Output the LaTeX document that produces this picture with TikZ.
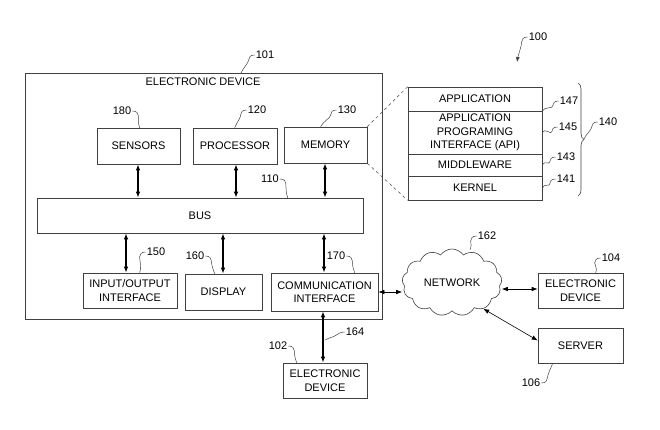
\documentclass[tikz,border=0pt]{standalone}
\usepackage{fontspec}
\setmainfont{Liberation Sans}
\usetikzlibrary{arrows.meta,shapes.symbols,decorations.pathreplacing,calc}
\newcommand\squigL[2]{\draw[lead] (#1) .. controls +(-4,0) and +(0,-3) .. ($(#1)+(-6,5)$) .. controls +(0,3) and +(2,-5) .. (#2);}
\newcommand\squigR[2]{\draw[lead] (#1) .. controls +(4,0) and +(0,-3) .. ($(#1)+(6,5)$) .. controls +(0,3) and +(-2,-5) .. (#2);}
\newcommand\squigU[2]{\draw[lead] (#1) .. controls +(4,0) and +(0,3) .. ($(#1)+(6,-5)$) .. controls +(0,-3) and +(-2,5) .. (#2);}
\begin{document}
\begin{tikzpicture}[x=1pt,y=-1pt,
  box/.style={draw=black!75, line width=0.6pt, align=center, font=\fontsize{11}{13.5}\selectfont, inner sep=0pt},
  lbl/.style={font=\fontsize{11}{13}\selectfont, inner sep=0pt},
  lead/.style={draw=black!75, line width=0.5pt},
  tip/.style={Latex[length=6pt,width=4.5pt]},
  biarrow/.style={{Latex[length=6pt,width=4.5pt]}-{Latex[length=6pt,width=4.5pt]}, line width=1.2pt},
  thinarrow/.style={{Latex[length=6pt,width=4.5pt]}-{Latex[length=6pt,width=4.5pt]}, line width=0.6pt}
]
\useasboundingbox (0,0) rectangle (660,429);

% outer device
\node[box, minimum width=357pt, minimum height=246pt, anchor=north west] (ed) at (25,73) {};
\node[lbl] (edt) at (203,82) {ELECTRONIC DEVICE};

% top row
\node[box, minimum width=83pt, minimum height=36pt] (sensors) at (138.5,146) {SENSORS};
\node[box, minimum width=84pt, minimum height=36pt] (proc) at (235,146) {PROCESSOR};
\node[box, minimum width=83pt, minimum height=36pt] (mem) at (325.5,145) {MEMORY};

% bus
\node[box, minimum width=326pt, minimum height=35pt] (bus) at (200,215.5) {BUS};

% bottom row
\node[box, minimum width=94pt, minimum height=35pt] (io) at (130,290.5) {INPUT/OUTPUT\\INTERFACE};
\node[box, minimum width=77pt, minimum height=36pt] (disp) at (223.5,292) {DISPLAY};
\node[box, minimum width=107pt, minimum height=38pt] (comm) at (324.5,292) {COMMUNICATION\\INTERFACE};

% external
\node[box, minimum width=84pt, minimum height=35pt] (el102) at (325,380.5) {ELECTRONIC\\DEVICE};
\node[box, minimum width=85pt, minimum height=35pt] (dev104) at (580.5,290.5) {ELECTRONIC\\DEVICE};
\node[box, minimum width=85pt, minimum height=35pt] (server) at (580.5,345.5) {SERVER};
\node[cloud, draw=black!75, line width=0.6pt, cloud puffs=13, cloud puff arc=110, aspect=1.5,
      minimum width=100pt, minimum height=67pt, inner sep=0pt, font=\fontsize{11}{13}\selectfont] (net) at (452,282.5) {NETWORK};

% stack
\node[box, minimum width=134pt, minimum height=24pt] (app) at (475,99) {APPLICATION};
\node[box, minimum width=134pt, minimum height=43pt] (api) at (475,132.5) {APPLICATION\\PROGRAMING\\INTERFACE (API)};
\node[box, minimum width=134pt, minimum height=22pt] (mid) at (475,165) {MIDDLEWARE};
\node[box, minimum width=134pt, minimum height=24pt] (kernel) at (475,188) {KERNEL};

% dashed zoom lines
\draw[lead, dashed] (mem.north east) -- (app.north west);
\draw[lead, dashed] (mem.south east) -- (kernel.south west);

% brace
\draw[lead, line width=0.6pt, decorate, decoration={brace, amplitude=6pt}] (578,83) -- (578,196);
\coordinate (btip) at (584,139);

% bus arrows
\draw[biarrow] ([xshift=-0.5pt]sensors.south) -- ([xshift=-0.5pt]sensors.south |- bus.north);
\draw[biarrow] ([xshift=1pt]proc.south) -- ([xshift=1pt]proc.south |- bus.north);
\draw[biarrow] ([xshift=-0.5pt]mem.south) -- ([xshift=-0.5pt]mem.south |- bus.north);
\draw[biarrow] ([xshift=-4pt]io.north |- bus.south) -- ([xshift=-4pt]io.north);
\draw[biarrow] ([xshift=-0.5pt]disp.north |- bus.south) -- ([xshift=-0.5pt]disp.north);
\draw[biarrow] ([xshift=-0.5pt]comm.north |- bus.south) -- ([xshift=-0.5pt]comm.north);
\draw[biarrow] ([xshift=-1.5pt]comm.south) -- ([xshift=-1.5pt]comm.south |- el102.north);

% network arrows
\draw[thinarrow] (comm.east) -- (comm.east -| net.west);
\draw[thinarrow] ([yshift=1.5pt]dev104.west -| net.east) -- ([yshift=1.5pt]dev104.west);
\draw[thinarrow] (net.-40) -- ([yshift=5pt]server.west);

% reference labels
\node[lbl] (l101) at (265,55) {101};
\node[lbl] (l100) at (538,37) {100};
\node[lbl] (l180) at (122,111) {180};
\node[lbl] (l120) at (257,110) {120};
\node[lbl] (l130) at (347,110) {130};
\node[lbl] (l110) at (270,179) {110};
\node[lbl] (l150) at (156,252) {150};
\node[lbl] (l160) at (195,256) {160};
\node[lbl] (l170) at (336,256) {170};
\node[lbl] (l164) at (355,332) {164};
\node[lbl] (l102) at (278,346) {102};
\node[lbl] (l162) at (487,236) {162};
\node[lbl] (l104) at (611,258) {104};
\node[lbl] (l106) at (531,383) {106};
\node[lbl] (l147) at (569,101) {147};
\node[lbl] (l145) at (568,127) {145};
\node[lbl] (l143) at (566,157) {143};
\node[lbl] (l141) at (566,179) {141};
\node[lbl] (l140) at (608,122) {140};

% leader targets
\coordinate (t101) at ($(ed.north west)+(216,0)$);
\coordinate (t180) at ($(sensors.north west)+(43,0)$);
\coordinate (t120) at ($(proc.north west)+(42,0)$);
\coordinate (t130) at ($(mem.north west)+(37,0)$);
\coordinate (t110) at ($(bus.north west)+(251,0)$);
\coordinate (t150) at ($(io.north west)+(57,0)$);
\coordinate (t160) at ($(disp.north west)+(30,0)$);
\coordinate (t170) at ($(comm.north west)+(84,0)$);
\coordinate (t102) at ($(el102.north west)+(14,0)$);
\coordinate (t162) at ($(net.north)+(18,1)$);
\coordinate (t104) at ($(dev104.north west)+(58,0)$);
\coordinate (t106) at ($(server.south west)+(15,0)$);
\coordinate (t164) at (325,340);
\coordinate (a100) at (517,62);

\coordinate (s101) at ([xshift=-1pt]l101.west);
\coordinate (s100) at ([xshift=-1pt]l100.west);
\coordinate (s180) at ([xshift=1pt]l180.east);
\coordinate (s120) at ([xshift=-1pt]l120.west);
\coordinate (s130) at ([xshift=-1pt]l130.west);
\coordinate (s110) at ([xshift=1pt]l110.east);
\coordinate (s150) at ([xshift=-1pt]l150.west);
\coordinate (s160) at ([xshift=1pt]l160.east);
\coordinate (s170) at ([xshift=1pt]l170.east);
\coordinate (s164) at ([xshift=-1pt]l164.west);
\coordinate (s102) at ([xshift=1pt]l102.east);
\coordinate (s162) at ([xshift=-1pt]l162.west);
\coordinate (s104) at ([xshift=-1pt]l104.west);
\coordinate (s106) at ([xshift=1pt]l106.east);
\coordinate (s147) at ([xshift=-1pt]l147.west);
\coordinate (s145) at ([xshift=-1pt]l145.west);
\coordinate (s143) at ([xshift=-1pt]l143.west);
\coordinate (s141) at ([xshift=-1pt]l141.west);
\coordinate (s140) at ([xshift=-1pt]l140.west);

\squigL{s101}{t101}
\squigR{s180}{t180}
\squigL{s120}{t120}
\squigL{s130}{t130}
\squigR{s110}{t110}
\squigL{s150}{t150}
\squigR{s160}{t160}
\squigR{s170}{t170}
\squigR{s102}{t102}
\squigL{s162}{t162}
\squigL{s104}{t104}
\squigU{s106}{t106}
\squigL{s147}{app.south east}
\squigL{s145}{api.east}
\squigL{s143}{mid.east}
\squigL{s141}{kernel.east}
\squigL{s140}{btip}
\draw[lead] (s164) .. controls +(-5,0) and +(4,-2) .. ($(s164)+(-10,4)$) .. controls +(-4,2) and +(3,-2) .. (t164);
\draw[lead, -{Latex[length=5pt,width=4pt]}] (s100) .. controls +(-4,0) and +(0,-3) .. ($(s100)+(-6,5)$) .. controls +(0,4) and +(1,-6) .. (a100);
\end{tikzpicture}
\end{document}
